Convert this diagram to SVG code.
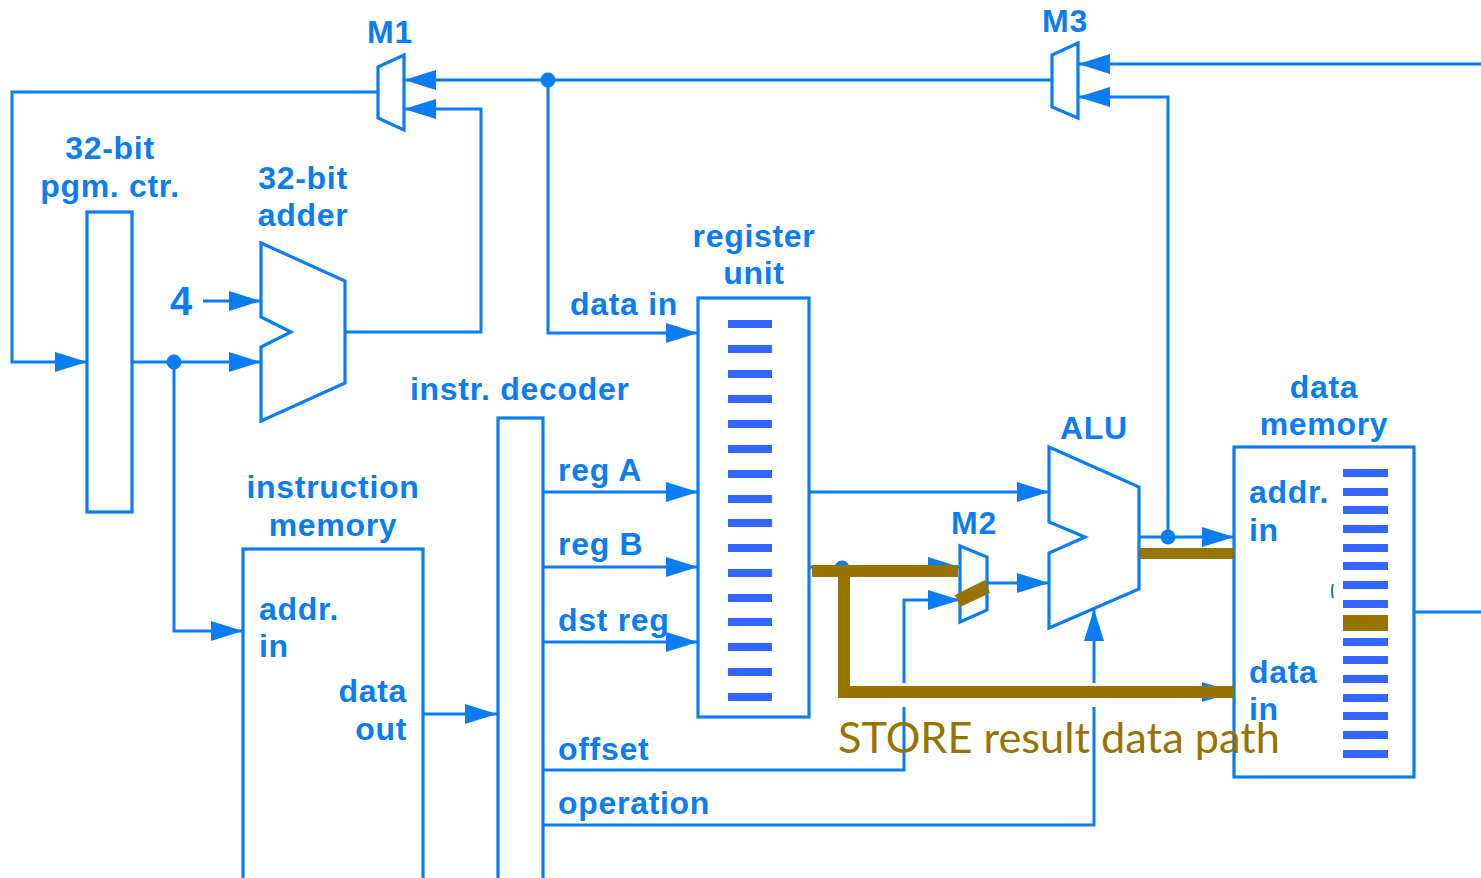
<svg xmlns="http://www.w3.org/2000/svg" width="1481" height="878" viewBox="0 0 1481 878">
<style>
.s{fill:#fff;stroke:#0a7df2;stroke-width:3.2;stroke-linejoin:miter}
.c{fill:none;stroke:#0a7df2;stroke-width:3}
.a{marker-end:url(#ah)}
.t{font-family:"Liberation Sans",Arial,sans-serif;font-weight:bold;font-size:32px;letter-spacing:.7px;fill:#0a7df2}
.m{text-anchor:middle}
.e{text-anchor:end}
.b{fill:#3366ff}
.br{fill:#997300}
.d{fill:#0a7df2}
</style>
<defs>
<marker id="ah" markerUnits="userSpaceOnUse" markerWidth="34" markerHeight="24" refX="32" refY="12" orient="auto"><path d="M0,2 L32,12 L0,22 Z" fill="#0a7df2"/></marker>
<g id="regbars" class="b">
<rect x="0" y="0" width="44" height="8"/><rect x="0" y="25" width="44" height="8"/><rect x="0" y="50" width="44" height="8"/><rect x="0" y="75" width="44" height="8"/><rect x="0" y="100" width="44" height="8"/><rect x="0" y="125" width="44" height="8"/><rect x="0" y="150" width="44" height="8"/><rect x="0" y="175" width="44" height="8"/><rect x="0" y="199" width="44" height="8"/><rect x="0" y="224" width="44" height="8"/><rect x="0" y="249" width="44" height="8"/><rect x="0" y="274" width="44" height="8"/><rect x="0" y="298" width="44" height="8"/><rect x="0" y="323" width="44" height="8"/><rect x="0" y="348" width="44" height="8"/><rect x="0" y="373" width="44" height="8"/>
</g>
</defs>
<rect width="1481" height="878" fill="#fff"/>
<g id="connectors">
<path class="c a" d="M378,92 H12 V362 H87"/>
<path class="c a" d="M345,332 H481 V109 H404"/>
<path class="c a" d="M1052,80 H404"/>
<path class="c a" d="M548,80 V333 H698"/>
<path class="c a" d="M1481,64 H1078"/>
<path class="c a" d="M1168,537 V97 H1078"/>
<path class="c a" d="M1139,537 H1234"/>
<path class="c a" d="M203,301 H261"/>
<path class="c a" d="M132,362 H261"/>
<path class="c a" d="M174,362 V631 H243"/>
<path class="c a" d="M423,714 H497"/>
<path class="c a" d="M543,492 H698"/>
<path class="c a" d="M543,567 H698"/>
<path class="c a" d="M543,642 H698"/>
<path class="c a" d="M809,492 H1049"/>
<path class="c a" d="M809,567 H960"/>
<path class="c a" d="M987,583 H1049"/>
<path class="c a" d="M904,683 V600 H960"/>
<path class="c" d="M543,770 H904 V707"/>
<path class="c a" d="M1094,683 V609"/>
<path class="c" d="M543,825 H1094 V707"/>
<path class="c a" d="M843,692 H1234"/>
<path class="c" d="M1414,612 H1481"/>
<circle class="d" cx="548" cy="80" r="7.5"/>
<circle class="d" cx="174" cy="362" r="7.5"/>
<circle class="d" cx="1168" cy="537" r="7.5"/>
<circle class="d" cx="842" cy="568" r="7.5"/>
</g>
<g id="pc"><rect class="s" x="87" y="212" width="45" height="300"/>
<text class="t m" x="110" y="159">32-bit</text><text class="t m" x="110" y="197">pgm. ctr.</text></g>
<g id="adder"><path class="s" d="M261,243 L345,281 V383 L261,421 V347 L291,332 L261,317 Z"/>
<text class="t m" x="303" y="189">32-bit</text><text class="t m" x="303" y="226">adder</text></g>
<g id="four"><text class="t" x="170" y="315" style="font-size:40px">4</text></g>
<g id="m1"><path class="s" d="M378,67 L404,55 V130 L378,118 Z"/><text class="t m" x="390" y="43">M1</text></g>
<g id="m3"><path class="s" d="M1052,55 L1078,43 V118 L1052,107 Z"/><text class="t m" x="1065" y="32">M3</text></g>
<g id="m2"><path class="s" d="M960,546 L987,557 V610 L960,622 Z"/><text class="t m" x="974" y="534">M2</text></g>
<g id="alu"><path class="s" d="M1049,447 L1139,487 V589 L1049,628 V553 L1085,537 L1049,522 Z"/><text class="t m" x="1094" y="439">ALU</text></g>
<g id="register-unit"><rect class="s" x="698" y="298" width="111" height="419"/>
<use href="#regbars" x="728" y="320"/>
<text class="t m" x="754" y="247">register</text><text class="t m" x="754" y="284">unit</text></g>
<g id="instr-decoder"><rect class="s" x="498" y="418" width="45" height="470"/>
<text class="t" x="410" y="400">instr. decoder</text>
<text class="t" x="558" y="481">reg A</text><text class="t" x="558" y="555">reg B</text><text class="t" x="558" y="631">dst reg</text><text class="t" x="558" y="760">offset</text><text class="t" x="558" y="814">operation</text></g>
<text class="t" x="570" y="315" id="data-in-label">data in</text>
<g id="instruction-memory"><rect class="s" x="243" y="549" width="180" height="340"/>
<text class="t m" x="333" y="498">instruction</text><text class="t m" x="333" y="536">memory</text>
<text class="t" x="259" y="620">addr.</text><text class="t" x="259" y="657">in</text>
<text class="t e" x="407" y="702">data</text><text class="t e" x="407" y="740">out</text></g>
<g id="data-memory"><rect class="s" x="1234" y="447" width="180" height="330"/>
<g class="b">
<rect x="1343" y="469" width="45" height="8"/><rect x="1343" y="488" width="45" height="8"/><rect x="1343" y="506" width="45" height="8"/><rect x="1343" y="525" width="45" height="8"/><rect x="1343" y="544" width="45" height="8"/><rect x="1343" y="562" width="45" height="8"/><rect x="1343" y="581" width="45" height="8"/><rect x="1343" y="600" width="45" height="8"/>
<rect x="1343" y="638" width="45" height="8"/><rect x="1343" y="656" width="45" height="8"/><rect x="1343" y="675" width="45" height="8"/><rect x="1343" y="694" width="45" height="8"/><rect x="1343" y="712" width="45" height="8"/><rect x="1343" y="731" width="45" height="8"/><rect x="1343" y="750" width="45" height="8"/>
</g>
<rect class="br" x="1343" y="615" width="45" height="16"/>
<path d="M1333,584 Q1331,591 1333,598" fill="none" stroke="#0a7df2" stroke-width="2"/>
<text class="t m" x="1324" y="398">data</text><text class="t m" x="1324" y="435">memory</text>
<text class="t" x="1249" y="503">addr.</text><text class="t" x="1249" y="541">in</text><text class="t" x="1249" y="683">data</text><text class="t" x="1249" y="720">in</text></g>
<g id="store-path">
<rect class="br" x="812" y="565" width="146" height="12"/>
<rect class="br" x="838" y="565" width="12" height="133"/>
<rect class="br" x="844" y="686" width="390" height="12"/>
<rect class="br" x="1140" y="548" width="93" height="11"/>
<path class="br" d="M955,595 L985,580 L990,593 L960,607 Z"/>
<text x="838" y="753" style="font-family:Lato,'Open Sans',sans-serif;font-size:43px;fill:#997300" textLength="442" lengthAdjust="spacingAndGlyphs">STORE result data path</text>
</g>
</svg>
